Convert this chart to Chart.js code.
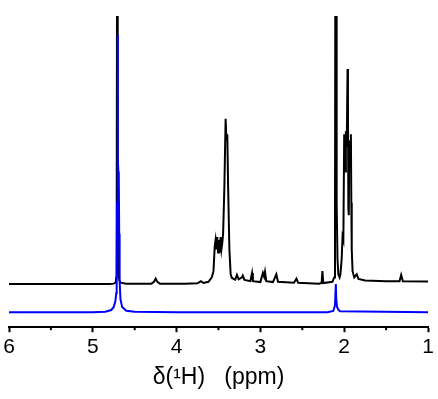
<!DOCTYPE html>
<html>
<head>
<meta charset="utf-8">
<script src="https://cdn.jsdelivr.net/npm/chart.js@4"></script>
<style>
  html, body { margin: 0; padding: 0; background: #fff; }
  #wrap { width: 438px; height: 399px; }
</style>
</head>
<body>
<div id="wrap"><canvas id="chart" width="438" height="399"></canvas></div>
<script>
// spectra: chemical shift (ppm) and intensity (0-100 = plot height)
const blackPpm = [6.00, 5.50, 5.00, 4.80, 4.75, 4.73, 4.725, 4.72, 4.715, 4.71, 4.705, 4.70, 4.695, 4.685, 4.67, 4.60,
  4.30, 4.27, 4.25, 4.23, 4.20, 3.90, 3.75, 3.71, 3.68, 3.62, 3.58, 3.56,
  3.545, 3.535, 3.525, 3.515, 3.505, 3.495, 3.485, 3.475, 3.465, 3.455, 3.445, 3.43,
  3.415, 3.405, 3.395, 3.385, 3.37, 3.355, 3.34, 3.30, 3.28, 3.26, 3.22, 3.21, 3.19,
  3.12, 3.10, 3.09, 3.00, 2.97, 2.955, 2.945, 2.93, 2.85, 2.81, 2.79, 2.60, 2.57, 2.55,
  2.30, 2.27, 2.26, 2.25, 2.14, 2.12, 2.11, 2.105, 2.095, 2.09, 2.08, 2.07, 2.055,
  2.045, 2.03, 2.02, 2.01, 2.00, 1.99, 1.98, 1.97, 1.96, 1.955, 1.95, 1.945, 1.94,
  1.93, 1.92, 1.915, 1.91, 1.90, 1.88, 1.85, 1.83, 1.75, 1.50, 1.34, 1.32, 1.30, 1.00];
const blackInt = [13.9, 13.9, 13.9, 13.9, 14.0, 14.3, 14.8, 16, 30, 130, 130, 45, 20, 15.2, 14.3, 14.0,
  14.0, 14.6, 15.6, 14.6, 14.0, 14.0, 14.1, 14.8, 14.2, 14.6, 16, 18,
  26, 28, 25, 29, 24, 28, 24, 29, 25, 27, 30, 45,
  67, 60, 62, 45, 25, 17, 15.8, 15.3, 16.8, 15.4, 16, 16.6, 15.2,
  14.8, 17.4, 14.8, 14.5, 17.5, 16.2, 17.8, 14.8, 14.5, 17, 14.6, 14.3, 15.6, 14.3,
  14.0, 14.2, 18, 14.2, 14.6, 16, 30, 130, 130, 40, 22, 17, 16,
  17, 22, 29, 28, 62, 50, 63, 58, 83, 70, 38, 36, 60,
  55, 62, 40, 25, 18, 16, 17, 15.5, 15, 14.8, 14.8, 16.8, 14.8, 14.7];

const bluePpm = [6.00, 5.00, 4.85, 4.78, 4.75, 4.73, 4.72, 4.715, 4.71, 4.705, 4.70, 4.695,
  4.69, 4.685, 4.68, 4.67, 4.65, 4.60, 4.50, 4.00, 2.20, 2.13, 2.11, 2.10, 2.095, 2.085,
  2.07, 2.05, 1.00];
const blueInt = [4.8, 4.8, 5.0, 5.5, 6.5, 8.5, 11, 17, 40, 94, 55, 50,
  49, 30, 15, 9, 6.5, 5.3, 5.0, 4.8, 4.8, 5.2, 7, 13.9, 9, 6.5,
  5.6, 5.1, 4.8];

const xTicks = [6, 5, 4, 3, 2, 1];
const xMinor = [5.5, 4.5, 3.5, 2.5, 1.5];

const toPoints = (xs, ys) => xs.map((x, i) => ({ x, y: ys[i] }));

const FONT = '"Liberation Sans", Arial, sans-serif';

// short minor ticks under the axis, placed by the x scale
const minorTicks = {
  id: 'minorTicks',
  afterDraw(chart) {
    const sx = chart.scales.x;
    const ctx = chart.ctx;
    ctx.save();
    ctx.strokeStyle = '#000';
    ctx.lineWidth = 2;
    for (const v of xMinor) {
      const px = sx.getPixelForValue(v);
      ctx.beginPath();
      ctx.moveTo(px, sx.top);
      ctx.lineTo(px, sx.top + 3);
      ctx.stroke();
    }
    ctx.restore();
  }
};

new Chart(document.getElementById('chart'), {
  type: 'line',
  data: {
    // blue first so it is drawn over the black trace
    datasets: [
      {
        label: 'blue',
        data: toPoints(bluePpm, blueInt),
        borderColor: '#0000FF',
        borderWidth: 2,
        pointRadius: 0,
        tension: 0,
        clip: 0
      },
      {
        label: 'black',
        data: toPoints(blackPpm, blackInt),
        borderColor: '#000000',
        borderWidth: 2,
        pointRadius: 0,
        tension: 0,
        clip: 0
      }
    ]
  },
  options: {
    responsive: false,
    animation: false,
    layout: { padding: { left: 9, right: 10, top: 16, bottom: 8 } },
    plugins: {
      legend: { display: false },
      tooltip: { enabled: false }
    },
    scales: {
      x: {
        type: 'linear',
        reverse: true,
        min: 1,
        max: 6,
        afterBuildTicks: (scale) => { scale.ticks = xTicks.map(v => ({ value: v })); },
        border: { display: true, color: '#000', width: 2 },
        grid: {
          display: true,
          drawOnChartArea: false,
          drawTicks: true,
          tickLength: 5,
          tickWidth: 2,
          tickColor: '#000'
        },
        ticks: {
          color: '#000',
          padding: 2,
          maxRotation: 0,
          font: { family: FONT, size: 21 }
        },
        title: {
          display: true,
          text: 'δ(¹H)   (ppm)',
          color: '#000',
          padding: { top: 2, bottom: 0 },
          font: { family: FONT, size: 23 }
        }
      },
      y: {
        display: false,
        min: 0,
        max: 100
      }
    }
  },
  plugins: [minorTicks]
});
</script>
</body>
</html>
